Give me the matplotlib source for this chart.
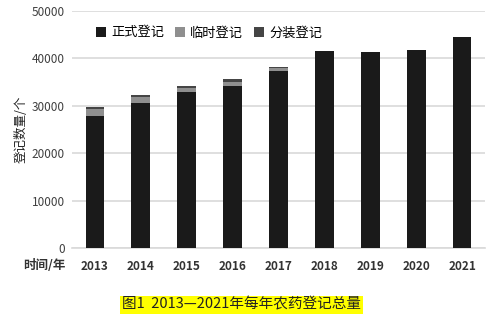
import matplotlib
matplotlib.use("Agg")
import matplotlib.pyplot as plt
import numpy as np

plt.rcParams['font.family'] = ['Noto Sans CJK SC', 'DejaVu Sans']

years = ["2013", "2014", "2015", "2016", "2017", "2018", "2019", "2020", "2021"]
formal = [27850, 30700, 32850, 34250, 37400, 41550, 41300, 41800, 44600]   # 正式登记
temp = [1400, 1200, 900, 850, 500, 0, 0, 0, 0]                              # 临时登记
split = [450, 450, 500, 500, 350, 0, 0, 0, 0]                               # 分装登记
labels = ["正式登记", "临时登记", "分装登记"]
colors = ["#1a1a1a", "#8f8f8f", "#454545"]

fig = plt.figure(figsize=(5, 3.25), dpi=100)
ax = fig.add_axes([0.144, 0.237, 0.826, 0.729])

x = np.arange(len(years))
w = 0.41
f = np.array(formal); t = np.array(temp); s = np.array(split)
ax.bar(x, f, w, color=colors[0], label=labels[0], zorder=3)
ax.bar(x, t, w, bottom=f, color=colors[1], label=labels[1], zorder=3)
ax.bar(x, s, w, bottom=f + t, color=colors[2], label=labels[2], zorder=3)

ax.set_xlim(-0.5, 8.5)
ax.set_ylim(0, 50000)
ax.set_yticks(range(0, 50001, 10000))
ax.yaxis.grid(True, color="#d9d9d9", lw=1.2, zorder=0)
for sp in ["top", "right", "left"]:
    ax.spines[sp].set_visible(False)
ax.spines["bottom"].set_color("#d9d9d9")
ax.spines["bottom"].set_linewidth(1.2)
ax.tick_params(axis="both", length=0)
ax.tick_params(axis="y", labelsize=8.5, colors="#404040", pad=5)
ax.set_xticks(x)
ax.set_xticklabels(years, fontsize=8.5, fontweight="bold", color="#333333")
ax.tick_params(axis="x", pad=9)

ax.set_ylabel("登记数量/个", fontsize=9, color="#222222", labelpad=3)
fig.text(0.088, 0.183, "时间/年", fontsize=9, fontweight="bold", ha="center", va="center", color="#333333")

ax.legend(loc="upper left", bbox_to_anchor=(0.03, 0.985), ncol=3, frameon=False,
          fontsize=9.5, handlelength=0.75, handleheight=0.75, handletextpad=0.4,
          columnspacing=0.8)

fig.text(0.483, 0.062, "图1  2013—2021年每年农药登记总量", fontsize=10.5, ha="center", va="center",
         color="#222222", bbox=dict(facecolor="#ffff00", edgecolor="none", pad=1.5))

fig.savefig("out.png", dpi=100)
